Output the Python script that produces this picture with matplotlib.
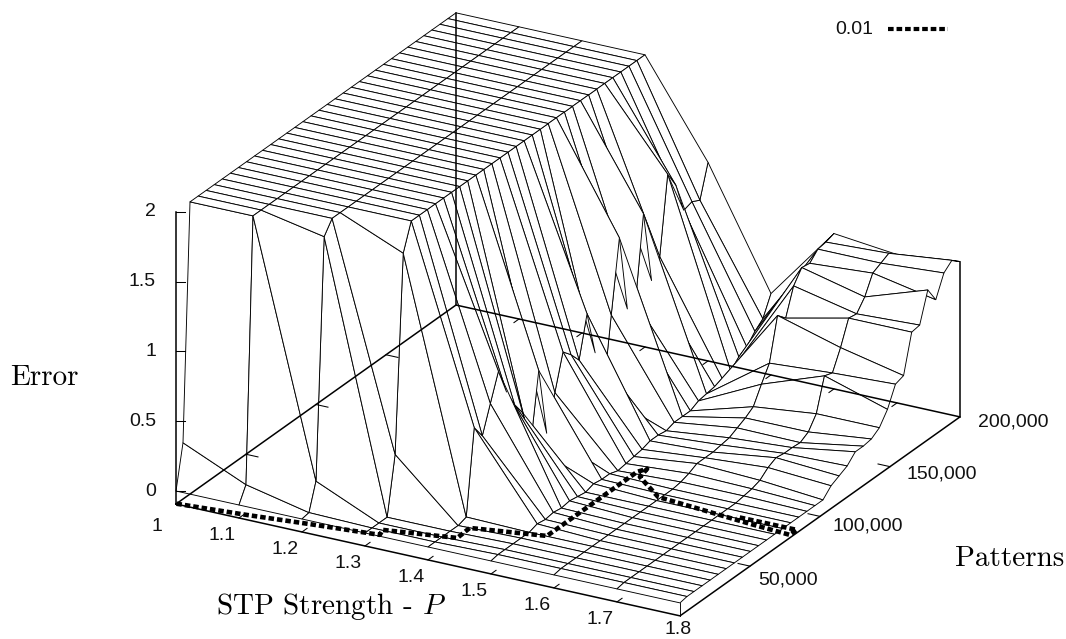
import numpy as np
import matplotlib
matplotlib.use('Agg')
import matplotlib.pyplot as plt
from matplotlib.lines import Line2D
from mpl_toolkits.mplot3d import proj3d

plt.rcParams['font.family'] = ['Liberation Sans']
plt.rcParams['mathtext.fontset'] = 'cm'

# %% data
strengths = [1.0, 1.1, 1.2, 1.3, 1.4, 1.5, 1.6, 1.7, 1.8]
patterns = [0, 5000, 10000, 15800, 21500, 27300, 33000, 38800, 44500, 50300,
            56100, 61800, 67600, 73300, 79100, 84800, 90600, 96400, 102100,
            107900, 113600, 119400, 125200, 130900, 136700, 142400, 148200,
            153900, 159700, 165500, 171200, 177000, 182700, 188500, 194200,
            200000]

err_10 = [0, .31] + [2] * 34
err_11 = [0, .11] + [2] * 34
err_12 = [0, .01, .2, 1.91] + [2] * 32
err_13 = [0, 0, 0, 0, .41, 1.81] + [2] * 30
err_14 = [0, 0, 0, 0, 0, .02, .62, .52, .71, .90, .71, .58, .48, .21, .70, .21,
          .46, .71, .65, .57, .86, .54, .21, .73, 1.24, .69, .70, 1.29, .77,
          .90, 1.45, 1.33, 1.11, 1.13, 1.10, 1.33]
err_15 = [0, .01, .01, .01, .01, .01, .03, .02, .03, .02, .03, .02, .01, .03,
          .02, .02, 0, .01, .02, .03, .05, .05, .04, .06, .06, .06, .09, .10,
          .11, .12, .14, .20, .23, .30, .35, .49]
err_16 = [0, .01, .01, .01, .01, .01, .01, .01, .01, .01, .01, .01, .01, .01,
          .01, .01, .02, .04, .07, .07, .07, .08, .09, .12, .15, .19, .31, .42,
          .72, .66, .85, .94, .93, .99, 1.0, 1.02]
err_17 = [0, .01, .01, .01, .01, .01, .01, .01, .01, .01, .01, .01, .01, .01,
          .01, .01, .02, .03, .05, .10, .13, .12, .12, .115, .15, .24, .47, .45,
          .59, .76, .75, .83, .96, .99, 1.02, .97]
err_18 = [0, .01, .01, .01, .01, .01, .01, .01, .01, .01, .01, .01, .01, .01,
          .01, .01, .01, .01, .01, .07, .10, .13, .19, .19, .20, .24, .33, .47,
          .49, .76, .77, .98, .87, 1.02, 1.07, 1.02]

# 0.01 level line on the base plane
level_p = [1.0, 1.1, 1.2, 1.299, 1.294, 1.398, 1.396, 1.503, 1.503, 1.51,
           1.515, 1.571, 1.728, 1.795, 1.795, 1.70]
level_pat = [300, 3500, 7500, 11000, 15300, 21800, 31600, 38600, 103000,
             107000, 99600, 87400, 82400, 80700, 85700, 85500]

x_ticks = [1.1, 1.2, 1.3, 1.4, 1.5, 1.6, 1.7]
x_tick_labels = ['1.1', '1.2', '1.3', '1.4', '1.5', '1.6', '1.7']
y_ticks = [50000, 100000, 150000, 200000]
y_tick_labels = ['50,000', '100,000', '150,000', '200,000']
z_ticks = [0, 0.5, 1, 1.5, 2]
z_tick_labels = ['0', '0.5', '1', '1.5', '2']

# %% axes, same orthographic view as the original
W, H = 1066, 639
z_base = -0.093
elev, rz = 23.4, 29.2
box = (504 / np.cos(np.radians(rz)), 280 / np.sin(np.radians(rz)),
       139.6 * (2 - z_base) / np.cos(np.radians(elev)))

fig = plt.figure(figsize=(W / 100, H / 100), dpi=100)
S = 1500
ax = fig.add_axes([(568 - S / 2) / W, (H - 320 - S / 2) / H, S / W, S / H],
                  projection='3d')
ax.set_proj_type('ortho')
ax.view_init(elev=elev, azim=-90 + rz)
ax.set_xlim(1, 1.8)
ax.set_ylim(0, 200000)
ax.set_zlim(z_base, 2)
ax.set_axis_off()
ax.computed_zorder = False
ax.patch.set_alpha(0)


def to_px(x, y, z):
    xs, ys, _ = proj3d.proj_transform(x, y, z, ax.get_proj())
    return ax.transData.transform((xs, ys))


# scale and move so the base corners land where they do in the picture
ax.set_box_aspect(box, zoom=1)
span = to_px(1.8, 200000, z_base)[0] - to_px(1, 0, z_base)[0]
ax.set_box_aspect(box, zoom=784 / span)
o = to_px(1, 0, z_base)
pos = ax.get_position()
ax.set_position([pos.x0 + (176 - o[0]) / W, pos.y0 + (H - 504 - o[1]) / H,
                 pos.width, pos.height])

# %% surface
Z = np.array([err_10, err_11, err_12, err_13, err_14, err_15, err_16, err_17,
              err_18]).T
X, Y = np.meshgrid(strengths, patterns)
ax.plot_surface(X, Y, Z, rstride=1, cstride=1, color='white', edgecolor='black',
                linewidth=0.65, shade=False, zorder=1)

# %% box, ticks
box_kw = dict(color='black', lw=1.1, zorder=3, solid_capstyle='projecting')
tick_kw = dict(color='black', lw=0.75, zorder=3)
ax.plot([1, 1.8, 1.8, 1, 1], [0, 0, 200000, 200000, 0], [z_base] * 5, **box_kw)
ax.plot([1, 1], [0, 0], [z_base, 2], **box_kw)
ax.plot([1, 1], [200000, 200000], [z_base, err_10[-1]], **box_kw)
ax.plot([1.8, 1.8], [200000, 200000], [z_base, err_18[-1]], **box_kw)
ax.plot([1.8, 1.8], [0, 0], [z_base, err_18[0]], color='black', lw=0.65, zorder=3)

for t in x_ticks:
    ax.plot([t, t], [0, 3600], [z_base] * 2, **tick_kw)
    ax.plot([t, t], [200000, 196400], [z_base] * 2, **tick_kw)
for t in y_ticks[:-1]:
    ax.plot([1, 1.019], [t, t], [z_base] * 2, **tick_kw)
    ax.plot([1.8, 1.781], [t, t], [z_base] * 2, **tick_kw)
for t in z_ticks:
    ax.plot([1, 1.0109], [0, 1532], [t, t], **tick_kw)

# %% level line
ax.plot(level_p, level_pat, [z_base] * len(level_p), color='black', lw=3.3,
        ls=(0, (1.2, 0.65)), zorder=4)


# %% texts
def put_label(x, y, z, dx, dy, s, **kw):
    px = to_px(x, y, z)
    fig.text((px[0] + dx) / W, (px[1] - dy) / H, s, ha='center', va='center',
             fontsize=14, color='#111111', **kw)


put_label(1, 0, z_base, -19, 23, '1')
put_label(1.8, 0, z_base, -2, 14, '1.8')
for t, s in zip(x_ticks, x_tick_labels):
    put_label(t, 0, z_base, -17, 18, s)
offsets = [(38, 14), (48, 10), (52, 7), (53, 5)]
for t, s, d in zip(y_ticks, y_tick_labels, offsets):
    put_label(1.8, t, z_base, d[0], d[1], s)
for t, s in zip(z_ticks, z_tick_labels):
    px = to_px(1, 0, t)
    fig.text((px[0] - 20) / W, px[1] / H, s, ha='right', va='center',
             fontsize=14, color='#111111')

fig.text(331 / W, 1 - 607 / H, r'STP Strength - $P$', family='cmr10', fontsize=21,
         ha='center', va='center')
fig.text(1010 / W, 1 - 559 / H, 'Patterns', family='cmr10', fontsize=21,
         ha='center', va='center')
fig.text(44 / W, 1 - 378 / H, 'Error', family='cmr10', fontsize=21, ha='center',
         va='center')

# key
fig.text(873 / W, 1 - 29 / H, '0.01', ha='right', va='center', fontsize=14,
         color='#111111')
fig.add_artist(Line2D([888 / W, 948 / W], [1 - 29 / H, 1 - 29 / H], color='black',
                      lw=3.0, ls=(0, (1.35, 0.7))))

fig.savefig('out.png', dpi=100)
